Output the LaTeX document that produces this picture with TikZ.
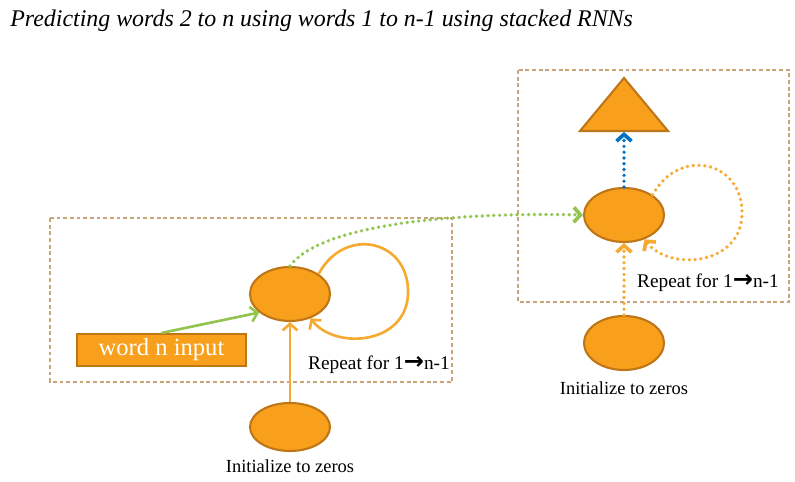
\documentclass[tikz,border=0pt]{standalone}
\usepackage{fontspec}
\setmainfont{Liberation Serif}
\newfontfamily\arrowfont{DejaVu Sans}
\usetikzlibrary{shapes.geometric,arrows.meta}

\definecolor{cellfill}{RGB}{248,160,28}
\definecolor{celledge}{RGB}{190,118,22}
\definecolor{loopline}{RGB}{246,170,50}
\definecolor{inputgreen}{RGB}{146,196,80}
\definecolor{outblue}{RGB}{0,112,192}
\definecolor{boxline}{RGB}{200,165,120}

\newcommand{\thinarrow}{{\arrowfont\bfseries\raisebox{0pt}{\scalebox{1.25}{→}}}}

\begin{document}
\begin{tikzpicture}[x=0.02cm,y=-0.02cm,
    cell/.style={ellipse,draw=celledge,fill=cellfill,line width=1.2pt,minimum width=1.6cm,minimum height=1.08cm,inner sep=0pt},
    zerocell/.style={cell,minimum height=0.96cm},
    groupbox/.style={draw=boxline,line width=0.6pt,dash pattern=on 2.2pt off 1.6pt},
    tip/.style={-{Straight Barb[length=3.8pt,width=8.5pt]}},
    dots/.style={line width=2.1pt,line cap=round,dash pattern=on 0pt off 3.3pt},
    note/.style={font=\fontsize{10.5}{12}\selectfont,inner sep=0pt}]
  \useasboundingbox (0,0) rectangle (795,482);

  % title
  \node[anchor=base west,inner sep=0pt,font=\fontsize{13.6}{16}\selectfont\itshape] (title) at (10,27)
    {Predicting words 2 to n using words 1 to n-1 using stacked RNNs};

  % the two layers
  \draw[groupbox] (50,218) rectangle (452,382);
  \draw[groupbox] (518,70) rectangle (789,302);

  \node[cell] (rnnlow) at (290,294) {};
  \node[zerocell] (initlow) at (290,427) {};
  \node[note] (initlowtext) at (290,466) {Initialize to zeros};
  \node[note,font=\fontsize{11}{13}\selectfont] (repeatlow) at (379,365) {Repeat for 1\thinarrow n-1};
  \node[rectangle,draw=celledge,fill=cellfill,line width=1.2pt,minimum width=3.38cm,minimum height=0.64cm,
        inner sep=0pt,text=white,font=\fontsize{14}{16}\selectfont] (wordin) at (161.5,350) {word n input};

  \node[cell] (rnntop) at (624,215) {};
  \node[cell] (inittop) at (624,343) {};
  \node[note] (inittoptext) at (624,388) {Initialize to zeros};
  \node[note,font=\fontsize{11}{13}\selectfont] (repeattop) at (708,283) {Repeat for 1\thinarrow n-1};
  \draw[celledge,fill=cellfill,line width=1.2pt] (624,78) -- (668,131) -- (580,131) -- cycle;
  \coordinate (outbase) at (624,132);

  % connectors
  \draw[tip,inputgreen,line width=1.5pt] (wordin.north) -- (rnnlow.211);
  \draw[tip,loopline,line width=1.5pt] (initlow.north) -- (rnnlow.south);
  \draw[tip,loopline,line width=1.5pt] (rnnlow.35) .. controls (345,225) and (410,240) .. (408,294)
        .. controls (406,345) and (335,350) .. (rnnlow.-50);

  \draw[tip,inputgreen,dots] (rnnlow.north) .. controls (320,225) and (450,212) .. (rnntop.west);
  \draw[tip,outblue,dots] (rnntop.north) -- (outbase);
  \draw[tip,loopline,dots] (inittop.north) -- (rnntop.south);
  \draw[tip,loopline,dots] (rnntop.35) .. controls (679,146) and (744,161) .. (742,215)
        .. controls (740,266) and (669,271) .. (rnntop.-50);
\end{tikzpicture}
\end{document}
